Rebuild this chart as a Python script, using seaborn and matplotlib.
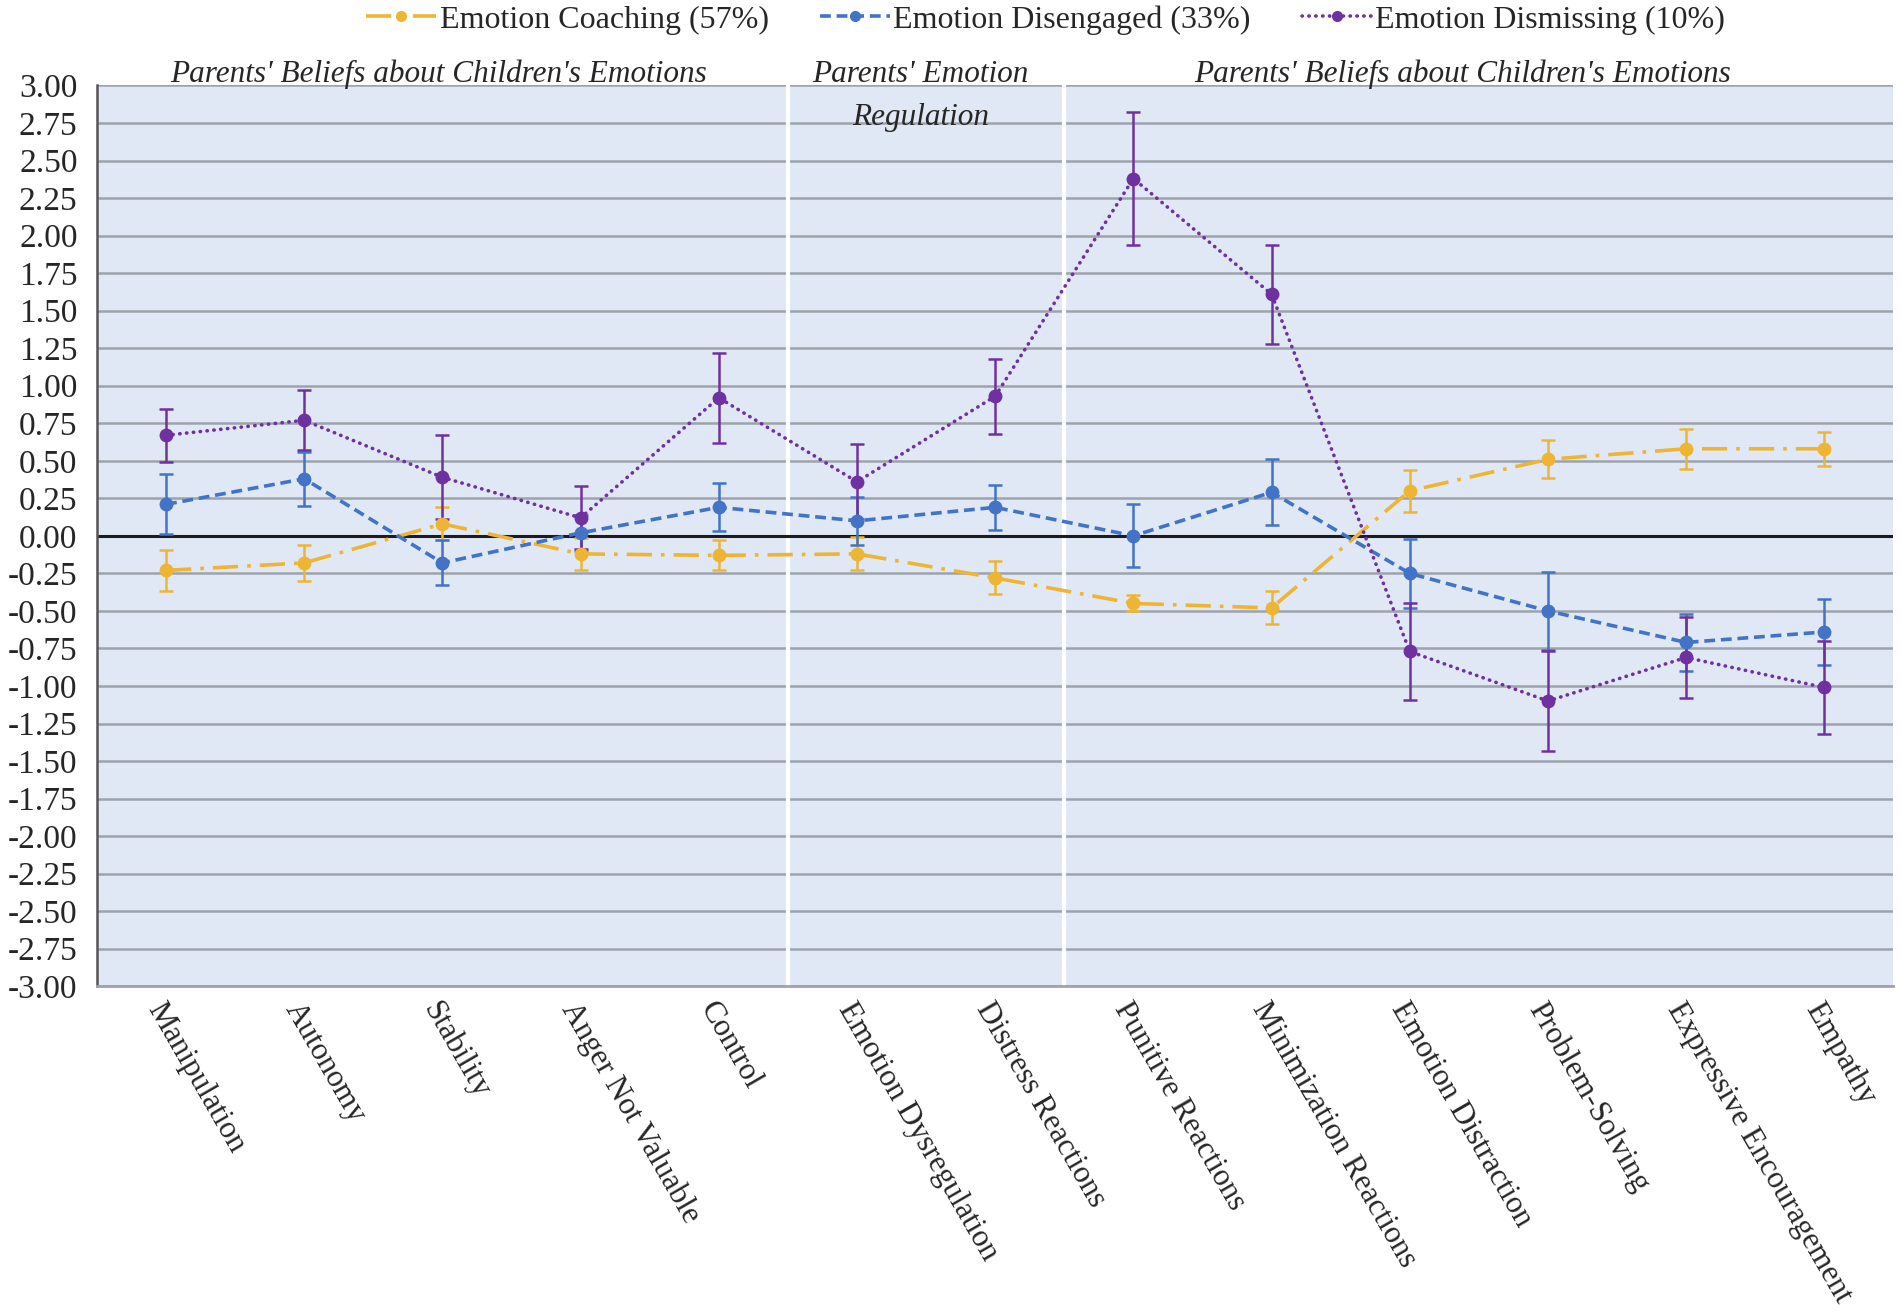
import matplotlib.pyplot as plt
import seaborn as sns
import pandas as pd
import numpy as np
from matplotlib.lines import Line2D

sns.set_theme(style="white")
plt.rcParams['font.family'] = ['Liberation Serif', 'DejaVu Serif']

# Values
categories = ["Manipulation", "Autonomy", "Stability", "Anger Not Valuable", "Control",
              "Emotion Dysregulation", "Distress Reactions", "Punitive Reactions",
              "Minimization Reactions", "Emotion Distraction", "Problem-Solving",
              "Expressive Encouragement", "Empathy"]

coaching = [-0.23, -0.18, 0.08, -0.12, -0.13, -0.12, -0.28, -0.45, -0.48, 0.30, 0.51, 0.58, 0.58]
coaching_err = [0.135, 0.12, 0.11, 0.105, 0.10, 0.11, 0.11, 0.053, 0.11, 0.14, 0.127, 0.135, 0.115]

disengaged = [0.21, 0.38, -0.18, 0.02, 0.19, 0.10, 0.19, 0.00, 0.29, -0.25, -0.50, -0.71, -0.64]
disengaged_err = [0.20, 0.18, 0.15, 0.12, 0.16, 0.16, 0.15, 0.21, 0.22, 0.23, 0.26, 0.19, 0.22]

dismissing = [0.67, 0.77, 0.39, 0.12, 0.92, 0.36, 0.93, 2.38, 1.61, -0.77, -1.10, -0.81, -1.01]
dismissing_err = [0.175, 0.20, 0.28, 0.21, 0.30, 0.25, 0.25, 0.44, 0.33, 0.32, 0.33, 0.27, 0.31]

series_names = ["Emotion Coaching (57%)", "Emotion Disengaged (33%)", "Emotion Dismissing (10%)"]
group_labels = ["Parents' Beliefs about Children's Emotions", "Parents' Emotion",
                "Regulation", "Parents' Beliefs about Children's Emotions"]

colors = {series_names[0]: "#EDB533", series_names[1]: "#4273C6", series_names[2]: "#7031A0"}
dashes = {series_names[0]: (7, 2.5, 1, 2.5), series_names[1]: (3, 1.6), series_names[2]: (0.1, 1.8)}

rows = []
for name, vals, errs in zip(series_names,
                            [coaching, disengaged, dismissing],
                            [coaching_err, disengaged_err, dismissing_err]):
    for i, (v, e) in enumerate(zip(vals, errs)):
        rows.append({"idx": i, "value": v, "err": e, "group": name})
df = pd.DataFrame(rows)

fig = plt.figure(figsize=(19.01, 13.15), dpi=100)
ax = fig.add_axes([0.051, 0.250, 0.945, 0.685])
ax.set_facecolor("#E1E8F5")

# horizontal gridlines
yticks = np.arange(-3.0, 3.01, 0.25)
for yv in yticks:
    ax.axhline(yv, color="#9EA3AB", lw=1.8, zorder=1)
ax.axhline(0, color="#1C1C1C", lw=2.2, zorder=2)

# white separators between construct groups
for xv in [4.5, 6.5]:
    ax.axvline(xv, color="white", lw=3, zorder=1.5)

# error bars
for name in series_names:
    sub = df[df["group"] == name]
    ax.errorbar(sub["idx"], sub["value"], yerr=sub["err"], fmt="none",
                ecolor=colors[name], elinewidth=1.8, capsize=5, capthick=1.8, zorder=3)

sns.lineplot(data=df, x="idx", y="value", hue="group", style="group",
             palette=colors, dashes=dashes, markers={n: "o" for n in series_names},
             markersize=10, markeredgewidth=0, linewidth=2.6, legend=False, ax=ax, zorder=4)

for line in ax.get_lines():
    if line.get_color() == colors[series_names[2]]:
        line.set_dash_capstyle("round")

ax.set_xlim(-0.5, 12.5)
ax.set_ylim(-3.0, 3.0)
ax.set_yticks(yticks)
ax.set_yticklabels([f"{v:.2f}" for v in yticks], fontsize=24)
ax.set_xticks(range(len(categories)))
ax.set_xticklabels(categories, rotation=-60, ha="left", va="top",
                   rotation_mode="anchor", fontsize=22.5)
ax.tick_params(axis="x", length=0, pad=8)
ax.tick_params(axis="y", length=0, pad=14)
ax.set_xlabel("")
ax.set_ylabel("")
for side in ["top", "right"]:
    ax.spines[side].set_visible(False)
ax.spines["left"].set_color("#555555")
ax.spines["left"].set_linewidth(1.8)
ax.spines["bottom"].set_color("#A0A4AA")
ax.spines["bottom"].set_linewidth(2)

# group headers
hdr = dict(ha="center", va="baseline", fontsize=22.5, style="italic", zorder=5)
ax.text(1.97, 3.02, group_labels[0], **hdr)
ax.text(5.46, 3.02, group_labels[1], **hdr)
ax.text(5.46, 2.74, group_labels[2], **hdr)
ax.text(9.38, 3.02, group_labels[3], **hdr)

handles = []
for name in series_names:
    h = Line2D([0], [0], color=colors[name], lw=2.6, marker="o", markersize=8,
               markeredgewidth=0, dashes=dashes[name])
    if name == series_names[2]:
        h.set_dash_capstyle("round")
    handles.append(h)
fig.legend(handles, series_names, loc="upper center", bbox_to_anchor=(0.55, 1.018),
           ncol=3, frameon=False, fontsize=23, handlelength=2.2, handletextpad=0.1,
           columnspacing=1.6)

fig.savefig("out.png", dpi=100)
